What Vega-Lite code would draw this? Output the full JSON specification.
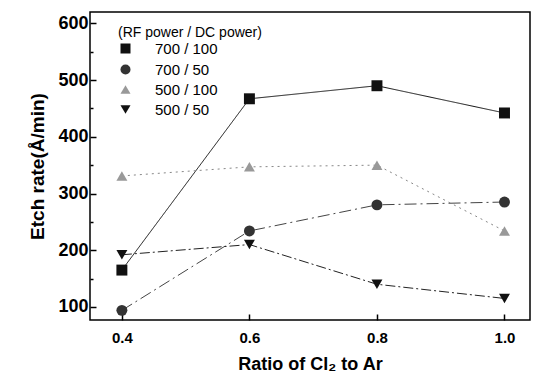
{
  "$schema": "https://vega.github.io/schema/vega-lite/v6.json",
  "width": 440,
  "height": 308,
  "autosize": {"type": "none"},
  "padding": {"left": 90, "top": 12, "right": 5, "bottom": 58},
  "background": "white",
  "config": {
    "view": {"stroke": "black", "strokeWidth": 1.5},
    "font": "Liberation Sans",
    "axis": {"domain": false, "grid": false, "tickColor": "black", "labelColor": "black", "titleColor": "black"}
  },
  "data": {
    "values": [
      {"ratio": 0.4, "rate": 165, "series": "700 / 100"},
      {"ratio": 0.6, "rate": 467, "series": "700 / 100"},
      {"ratio": 0.8, "rate": 490, "series": "700 / 100"},
      {"ratio": 1.0, "rate": 442, "series": "700 / 100"},
      {"ratio": 0.4, "rate": 94, "series": "700 / 50"},
      {"ratio": 0.6, "rate": 234, "series": "700 / 50"},
      {"ratio": 0.8, "rate": 280, "series": "700 / 50"},
      {"ratio": 1.0, "rate": 285, "series": "700 / 50"},
      {"ratio": 0.4, "rate": 331, "series": "500 / 100"},
      {"ratio": 0.6, "rate": 347, "series": "500 / 100"},
      {"ratio": 0.8, "rate": 350, "series": "500 / 100"},
      {"ratio": 1.0, "rate": 234, "series": "500 / 100"},
      {"ratio": 0.4, "rate": 192, "series": "500 / 50"},
      {"ratio": 0.6, "rate": 210, "series": "500 / 50"},
      {"ratio": 0.8, "rate": 140, "series": "500 / 50"},
      {"ratio": 1.0, "rate": 115, "series": "500 / 50"}
    ]
  },
  "encoding": {
    "x": {
      "field": "ratio", "type": "quantitative",
      "scale": {"domain": [0.35, 1.04], "nice": false, "zero": false},
      "axis": {
        "values": [0.4, 0.6, 0.8, 1.0], "format": ".1f",
        "title": "Ratio of Cl₂ to Ar",
        "tickSize": -6, "tickWidth": 1.5, "labelPadding": 16,
        "labelFontSize": 15, "labelFontWeight": "bold",
        "titleFontSize": 18, "titleFontWeight": "bold", "titlePadding": 10
      }
    },
    "y": {
      "field": "rate", "type": "quantitative",
      "scale": {"domain": [77, 620], "nice": false, "zero": false},
      "axis": {
        "values": [100, 150, 200, 250, 300, 350, 400, 450, 500, 550, 600],
        "labelExpr": "datum.value % 100 == 0 ? datum.label : ''",
        "title": "Etch rate(Å/min)",
        "tickSize": {"condition": {"test": "datum.value % 100 == 0", "value": -6}, "value": -3},
        "tickWidth": 1.5, "labelPadding": 8,
        "labelFontSize": 18, "labelFontWeight": "bold",
        "titleFontSize": 19, "titleFontWeight": "bold", "titlePadding": 10
      }
    }
  },
  "layer": [
    {
      "mark": {"type": "line", "strokeWidth": 1},
      "encoding": {
        "detail": {"field": "series"},
        "stroke": {"field": "series", "type": "nominal", "legend": null,
          "scale": {"domain": ["500 / 50", "500 / 100", "700 / 50", "700 / 100"], "range": ["#222222", "#888888", "#444444", "#111111"]}},
        "strokeDash": {"field": "series", "type": "nominal", "legend": null,
          "scale": {"domain": ["500 / 50", "500 / 100", "700 / 50", "700 / 100"], "range": [[10, 3, 2, 3], [2, 4], [12, 4, 2, 4], [1, 0]]}}
      }
    },
    {
      "mark": {"type": "point", "filled": true, "opacity": 1, "size": 120},
      "encoding": {
        "shape": {"field": "series", "type": "nominal",
          "scale": {"domain": ["700 / 100", "700 / 50", "500 / 100", "500 / 50"], "range": ["square", "circle", "triangle-up", "triangle-down"]},
          "legend": {
            "title": "(RF power / DC power)", "orient": "none", "legendX": 28, "legendY": 14,
            "titleFontSize": 14, "titleFontWeight": "normal", "titlePadding": 1,
            "labelFontSize": 15, "symbolSize": 100, "rowPadding": 4, "labelOffset": 22
          }
        },
        "fill": {"field": "series", "type": "nominal",
          "scale": {"domain": ["700 / 100", "700 / 50", "500 / 100", "500 / 50"], "range": ["#111111", "#333333", "#999999", "#111111"]},
          "legend": {
            "title": "(RF power / DC power)", "orient": "none", "legendX": 28, "legendY": 14,
            "titleFontSize": 14, "titleFontWeight": "normal", "titlePadding": 1,
            "labelFontSize": 15, "symbolSize": 100, "rowPadding": 4, "labelOffset": 22
          }
        }
      }
    }
  ]
}
